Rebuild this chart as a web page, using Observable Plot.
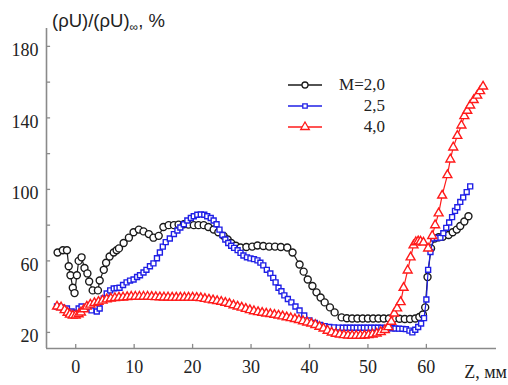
<!DOCTYPE html>
<html>
<head>
<meta charset="utf-8">
<script src="https://cdn.jsdelivr.net/npm/d3@7"></script>
<script src="https://cdn.jsdelivr.net/npm/@observablehq/plot@0.6"></script>
<style>
  html, body { margin: 0; padding: 0; background: #fff; }
  #chart { width: 508px; height: 385px; }
</style>
</head>
<body>
<div id="chart"></div>
<script>
// ---- Data (Z in mm, (ρU)/(ρU)∞ in %) ----
const seriesNames = ["M=2,0", "2,5", "4,0"];
const seriesColors = ["#1a1a1a", "#1f1fe6", "#ff1a1a"];
const seriesSymbols = ["circle", "square", "triangle"];

const m20 = [
  [-3.1,64.7],[-2.2,66],[-1.5,66],[-1.2,57],[-0.9,52],[-0.5,45],[-0.2,42],[0.2,52],[0.5,60],[1.0,62],
  [1.5,56],[2.0,53],[2.3,48.5],[2.9,43.5],[3.8,43.5],[4.1,49],[4.8,55],[5.2,59],[5.8,62.5],[6.5,64.7],
  [7.0,66],[7.4,67],[8.2,70],[9.1,73],[9.9,76],[10.8,77.5],[11.6,76.5],[12.5,75],[13.3,73],[14.2,74],
  [15.0,79],[15.9,80],[16.8,80],[17.6,80.3],[18.5,80.5],[19.3,80.3],[20.2,80],[21.0,80],[21.9,80],[22.7,79],
  [23.6,77.6],[24.4,76],[25.3,74],[26.0,72],[26.6,70],[27.4,68.5],[28.2,67.5],[29.2,67.8],[30.2,68],[31.1,68.6],
  [32.1,68.3],[33.1,68],[34.1,68],[35.1,67.8],[36.2,67.5],[37.1,64.7],[38.3,58],[39.0,54],[39.7,49.6],[40.5,46],
  [41.2,42.4],[41.9,39.5],[42.6,36.8],[43.5,34],[44.3,31.2],[45.5,28.4],[46.4,27.9],[47.3,27.8],[48.2,27.8],[49.1,27.8],
  [50.0,27.8],[50.9,27.8],[51.8,27.8],[52.7,27.8],[53.6,27.8],[54.5,27.7],[55.4,27.6],[56.3,27.5],[57.2,27.5],[58.1,27.8],
  [58.8,28.6],[59.4,30],[59.8,34],[60.2,51],[60.8,67],[61.4,72.5],[62.1,73.2],[62.8,73.5],[63.8,74.5],[64.5,76],
  [65.2,77.5],[65.8,79.5],[66.5,82],[67.2,85]
];

const m25 = [
  [-3.2,34.5],[-2.4,34],[-1.5,33.4],[-0.7,31.7],[-0.2,31],[0.5,33.4],[1.0,34.5],[1.9,34],[2.7,32.3],[3.6,31.7],
  [4.1,33.4],[4.8,39],[5.3,41.8],[5.9,43.5],[6.5,44.6],[7.0,44.8],[7.5,45],[8.1,46.5],[8.7,48],[9.3,49],
  [9.9,49.6],[10.5,51],[11.0,52],[11.6,53.5],[12.1,55],[12.7,57],[13.3,58.6],[13.9,61.5],[14.4,64.7],[14.9,68],
  [15.4,70.5],[16.1,72.5],[16.8,75],[17.4,77],[17.9,78.7],[18.5,80.5],[19.1,82.6],[19.7,84],[20.2,85],[20.8,85.8],
  [21.4,86],[22.0,85.8],[22.5,85],[23.1,84],[23.6,82.6],[24.1,80.5],[24.6,77.5],[25.1,74.5],[25.6,72],[26.1,70],
  [26.6,68.5],[27.1,67.3],[27.7,66],[28.2,64.5],[28.7,63],[29.3,62],[29.9,61.4],[30.5,61],[31.1,60.3],[31.6,59],
  [32.1,57.5],[32.7,55],[33.3,53],[33.8,50.5],[34.2,48],[34.7,45],[35.2,43],[35.7,40.7],[36.3,38.7],[36.9,36.8],
  [37.6,34.5],[38.3,32.3],[39.1,29.5],[40.0,26.7],[40.9,25.3],[41.8,24.2],[42.6,23.5],[43.4,23],[44.2,22.8],[45.0,22.7],
  [45.7,22.6],[46.3,22.6],[46.9,22.6],[47.5,22.6],[48.1,22.6],[48.7,22.6],[49.3,22.6],[49.9,22.6],[50.5,22.6],[51.1,22.6],
  [51.7,22.6],[52.3,22.6],[52.9,22.5],[53.5,22.4],[54.1,22.3],[54.7,22.2],[55.3,22.1],[55.9,22],[56.5,21.8],[57.1,21],
  [57.6,20],[58.1,21.5],[58.6,23],[59.1,25],[59.6,28],[60.0,38.4],[60.3,55],[60.7,65],[61.2,72.6],[61.8,72.8],
  [62.4,73],[62.9,75.5],[63.4,78.5],[63.9,81.5],[64.4,84.5],[64.9,88],[65.3,90],[65.8,93],[66.3,95.5],[66.9,98.5],
  [67.5,101.7]
];

const m40 = [
  [-3.2,34.5],[-2.5,34],[-1.9,32.5],[-1.4,31],[-1.0,30],[-0.5,29.5],[0.0,29.5],[0.5,30.2],[0.9,31.2],[1.4,33],
  [1.9,34.5],[2.5,35.6],[3.2,36.5],[3.9,37.1],[4.6,37.8],[5.3,38.5],[6.0,39],[6.7,39.3],[7.4,39.5],[8.1,39.6],
  [8.8,39.8],[9.5,40],[10.2,40],[10.9,40],[11.6,40],[12.3,40],[13.0,39.9],[13.7,39.8],[14.4,39.7],[15.1,39.6],
  [15.8,39.6],[16.5,39.5],[17.2,39.5],[17.9,39.5],[18.6,39.5],[19.3,39.5],[20.0,39.5],[20.7,39.4],[21.4,39.2],[22.1,38.8],
  [22.8,38.4],[23.5,38],[24.2,37.6],[24.9,37.2],[25.6,36.6],[26.3,36],[27.0,35.2],[27.7,34.5],[28.4,33.9],[29.1,33.2],
  [29.8,32.5],[30.5,31.9],[31.2,31.4],[31.9,31],[32.6,30.6],[33.3,30.3],[34.0,29.9],[34.7,29.5],[35.4,29],[36.1,28.5],
  [36.8,28],[37.5,27.5],[38.2,27],[38.9,26.3],[39.6,25.6],[40.3,25],[41.0,24.2],[41.7,23.2],[42.4,22.2],[43.1,21],
  [43.8,20],[44.5,19.3],[45.2,18.9],[45.9,18.5],[46.6,18.3],[47.3,18.2],[48.0,18.2],[48.7,18.2],[49.4,18.3],[50.1,18.5],
  [50.8,18.9],[51.5,19.4],[52.2,20.2],[52.9,21.4],[53.5,23],[54.0,26],[54.5,30.6],[55.0,33.5],[55.6,37],[56.1,45],
  [56.8,54.7],[57.3,62],[57.8,68.7],[58.2,70.5],[58.6,71],[59.0,70.8],[59.5,70.3],[60.3,67],[61.0,74],[61.5,80],
  [62.1,86.6],[62.7,96.6],[63.6,108],[64.1,116.8],[64.6,123.5],[65.3,130],[66.0,135.8],[66.5,141],[67.0,144],[67.5,147],
  [68.1,150],[68.7,152.5],[69.2,155],[69.7,157.6]
];

const yTickLabels = [20, 60, 100, 140, 180];
const yMinorTicks = [40, 80, 120, 160];
const xTickLabels = [0, 10, 20, 30, 40, 50, 60];
const titleMain = "(ρU)/(ρU)";
const titleSub = "∞";
const titleTail = ", %";
const xLabel = "Z, мм";

// ---- build marks ----
const xDomain = [-5, 72];
const yDomain = [11, 190];
const axisColor = "#8a8a8a";
const serif = "'Liberation Serif', 'Times New Roman', serif";

function seriesMarks(data, i) {
  const rows = data.map(([z, v]) => ({z, v}));
  const r = [3.5, 2.8, 3.3][i];
  return [
    Plot.line(rows, {x: "z", y: "v", stroke: seriesColors[i], strokeWidth: 1.2}),
    Plot.dot(rows, {x: "z", y: "v", stroke: seriesColors[i], fill: "white", r, symbol: seriesSymbols[i], strokeWidth: 1.4})
  ];
}

const yt = [...yTickLabels, ...yMinorTicks];

const chart = Plot.plot({
  width: 508,
  height: 385,
  marginLeft: 46,
  marginRight: 12,
  marginTop: 28,
  marginBottom: 37,
  style: {fontFamily: serif, fontSize: "18px", background: "white", color: "#222"},
  x: {domain: xDomain},
  y: {domain: yDomain},
  marks: [
    Plot.axisY({ticks: yTickLabels, tickSize: 0, tickPadding: 8, dy: 4, fontSize: 18, fill: "#222", label: null}),
    Plot.axisX({ticks: xTickLabels, tickSize: 0, tickPadding: 12, fontSize: 18, fill: "#222", label: null, tickFormat: d => String(d)}),
    // inward ticks
    Plot.ruleY(yt, {y: d => d, x1: xDomain[0], x2: xDomain[0] + 0.7, stroke: axisColor, strokeWidth: 1.3}),
    Plot.ruleX(xTickLabels, {x: d => d, y1: yDomain[0], y2: yDomain[0] + 2.3, stroke: axisColor, strokeWidth: 1.3}),
    // axis lines
    Plot.ruleX([xDomain[0]], {stroke: axisColor, strokeWidth: 1.6}),
    Plot.ruleY([yDomain[0]], {stroke: axisColor, strokeWidth: 1.6}),
    ...seriesMarks(m20, 0),
    ...seriesMarks(m25, 1),
    ...seriesMarks(m40, 2)
  ]
});

document.getElementById("chart").appendChild(chart);

// ---- title, x label, legend ----
const svg = d3.select(chart);
const t = svg.append("text")
  .attr("x", 52).attr("y", 27)
  .attr("text-anchor", "start")
  .style("font-family", "'Liberation Sans', Arial, sans-serif")
  .style("font-size", "18.5px")
  .attr("fill", "#222");
t.append("tspan").text(titleMain);
t.append("tspan").attr("dy", 4).style("font-size", "12px").text(titleSub);
t.append("tspan").attr("dy", -4).text(titleTail);

svg.append("text")
  .attr("x", 507).attr("y", 378)
  .attr("text-anchor", "end")
  .style("font-family", serif).style("font-size", "18px")
  .attr("fill", "#222")
  .text(xLabel);

const legendY = [85, 106, 127];
const symGen = [d3.symbolCircle, d3.symbolSquare, d3.symbolTriangle];
const symSize = [Math.PI * 3 * 3, Math.PI * 2.5 * 2.5, Math.PI * 3.2 * 3.2];
seriesNames.forEach((name, i) => {
  const g = svg.append("g");
  g.append("line").attr("x1", 288).attr("x2", 322).attr("y1", legendY[i]).attr("y2", legendY[i])
    .attr("stroke", seriesColors[i]).attr("stroke-width", 1.3);
  g.append("path").attr("d", d3.symbol(symGen[i], symSize[i])())
    .attr("transform", `translate(305,${legendY[i]})`)
    .attr("fill", "white").attr("stroke", seriesColors[i]).attr("stroke-width", 1.3);
  g.append("text").attr("x", 385).attr("y", legendY[i] + 5).attr("text-anchor", "end")
    .style("font-family", serif).style("font-size", "17px").attr("fill", "#222")
    .text(name);
});
</script>
</body>
</html>
